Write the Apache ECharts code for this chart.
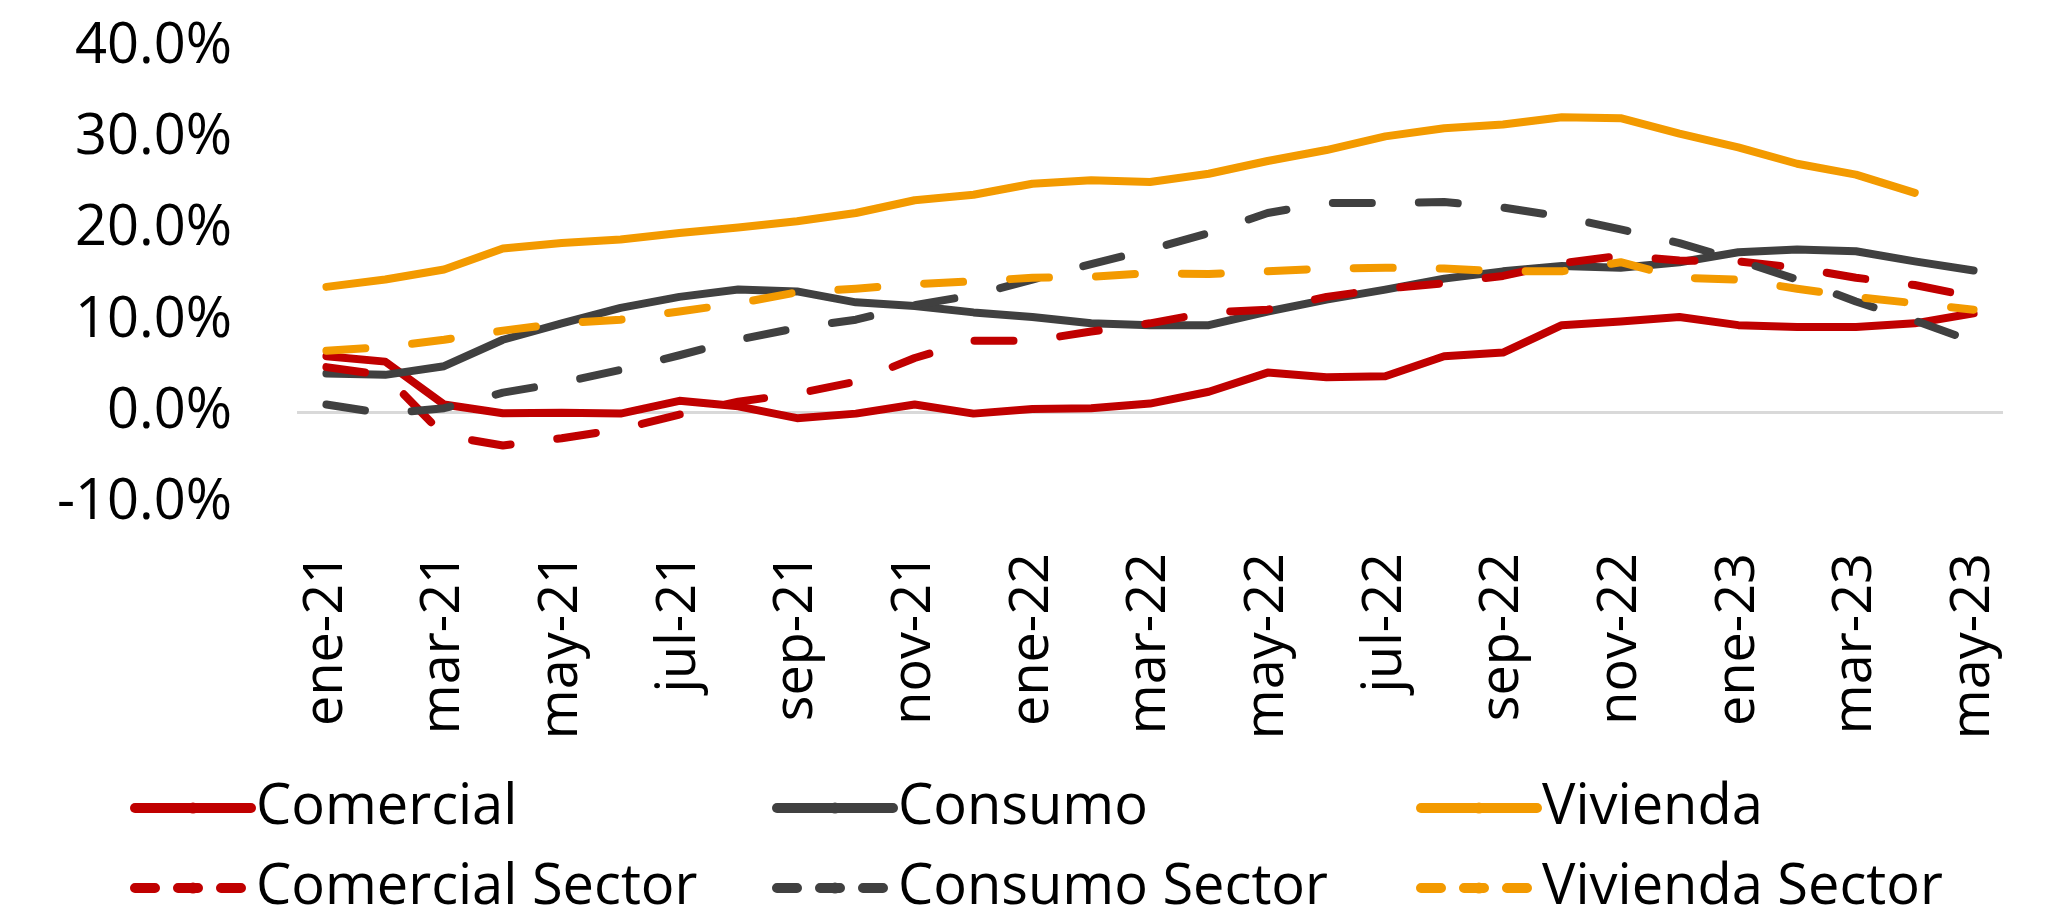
<!DOCTYPE html>
<html>
<head>
<meta charset="utf-8">
<script src="https://cdn.jsdelivr.net/npm/echarts@6/dist/echarts.min.js"></script>
<style>
  html, body { margin: 0; padding: 0; background: #fff; }
  #chart { width: 2049px; height: 911px; }
</style>
</head>
<body>
<div id="chart"></div>
<script>
// monthly categories, ene-21 .. may-23
const months = ["ene-21", "feb-21", "mar-21", "abr-21", "may-21", "jun-21", "jul-21", "ago-21", "sep-21", "oct-21", "nov-21", "dic-21",
  "ene-22", "feb-22", "mar-22", "abr-22", "may-22", "jun-22", "jul-22", "ago-22", "sep-22", "oct-22", "nov-22", "dic-22",
  "ene-23", "feb-23", "mar-23", "abr-23", "may-23"];

// values in %
const comercial = [6.1, 5.5, 0.8, -0.15, -0.1, -0.2, 1.2, 0.6, -0.7, -0.2, 0.8, -0.2, 0.3, 0.4, 0.9, 2.2, 4.3, 3.8, 3.9, 6.1, 6.5, 9.5, 9.9, 10.4, 9.5, 9.3, 9.3, 9.7, 10.8];
const consumo = [4.2, 4.05, 5.0, 7.9, 9.7, 11.4, 12.6, 13.4, 13.2, 12.0, 11.6, 10.9, 10.4, 9.7, 9.5, 9.5, 11.0, 12.3, 13.4, 14.6, 15.4, 16.0, 15.8, 16.4, 17.5, 17.8, 17.6, 16.5, 15.5];
const vivienda = [13.7, 14.5, 15.6, 17.9, 18.5, 18.9, 19.6, 20.2, 20.9, 21.8, 23.2, 23.8, 25.0, 25.4, 25.2, 26.1, 27.5, 28.7, 30.2, 31.1, 31.5, 32.3, 32.2, 30.5, 29.0, 27.2, 26.0, 24.0, null];
const comercialSector = [4.9, 4.0, -2.6, -3.7, -2.9, -1.9, -0.3, 1.1, 2.0, 3.3, 5.9, 7.8, 7.8, 8.8, 9.7, 10.9, 11.2, 12.6, 13.5, 14.1, 14.9, 16.3, 17.1, 16.6, 16.5, 15.8, 14.7, 13.9, 12.6];
const consumoSector = [0.8, -0.2, 0.4, 2.1, 3.2, 4.6, 6.2, 7.9, 9.2, 10.1, 11.7, 12.8, 14.5, 16.2, 17.8, 19.6, 21.8, 22.9, 22.9, 23.0, 22.4, 21.4, 20.0, 18.5, 16.6, 14.5, 12.1, 10.0, 7.7];
const viviendaSector = [6.7, 7.1, 7.9, 8.9, 9.7, 10.1, 11.0, 11.9, 13.1, 13.5, 14.0, 14.3, 14.7, 14.8, 15.2, 15.1, 15.4, 15.7, 15.8, 15.7, 15.4, 15.4, 16.4, 14.7, 14.5, 13.5, 12.6, 11.9, 11.2];

const RED = "#C00000";
const GREY = "#404040";
const ORANGE = "#F39A00";
const FONT = "'Open Sans', 'Noto Sans', sans-serif";
const DASH = [39, 47];

function line(name, data, color, dashed) {
  return {
    name: name,
    type: "line",
    data: data,
    symbol: "none",
    connectNulls: false,
    lineStyle: { color: color, width: 8, type: dashed ? DASH : "solid", cap: "round", join: "round" },
    itemStyle: { color: color },
  };
}

// one legend per entry, laid out as 3 columns x 2 rows
function legendItem(left, top, name, color, dashed) {
  const ls = { width: 10, type: dashed ? [20, 23] : "solid", cap: "round", color: color };
  return {
    left: left,
    top: top,
    itemWidth: 116,
    itemHeight: 14,
    lineStyle: ls,
    textStyle: { fontFamily: FONT, fontSize: 56, color: "#000", lineHeight: 60 },
    data: [{ name: name, lineStyle: ls }],
  };
}

const chart = echarts.init(document.getElementById("chart"));
chart.setOption({
  animation: false,
  backgroundColor: "#fff",
  grid: { left: 297, right: 46, top: 47, bottom: 408, containLabel: false },
  legend: [
    legendItem(125, 773, "Comercial", RED, false),
    legendItem(767, 773, "Consumo", GREY, false),
    legendItem(1411, 773, "Vivienda", ORANGE, false),
    legendItem(125, 853, "Comercial Sector", RED, true),
    legendItem(767, 853, "Consumo Sector", GREY, true),
    legendItem(1411, 853, "Vivienda Sector", ORANGE, true),
  ],
  xAxis: {
    type: "category",
    data: months,
    boundaryGap: true,
    axisLine: { show: false },
    axisTick: { show: false },
    axisLabel: { interval: 1, rotate: 90, margin: 50, fontFamily: FONT, fontSize: 54, color: "#000" },
  },
  yAxis: {
    type: "value",
    min: -10,
    max: 40,
    interval: 10,
    axisLine: { show: false },
    axisTick: { show: false },
    axisLabel: { margin: 65, fontFamily: FONT, fontSize: 56, color: "#000", formatter: (v) => v.toFixed(1) + "%" },
    splitLine: {
      show: true,
      lineStyle: { width: 3, color: ["rgba(0,0,0,0)", "#D9D9D9", "rgba(0,0,0,0)", "rgba(0,0,0,0)", "rgba(0,0,0,0)", "rgba(0,0,0,0)"] },
    },
  },
  series: [
    line("Comercial", comercial, RED, false),
    line("Consumo", consumo, GREY, false),
    line("Vivienda", vivienda, ORANGE, false),
    line("Comercial Sector", comercialSector, RED, true),
    line("Consumo Sector", consumoSector, GREY, true),
    line("Vivienda Sector", viviendaSector, ORANGE, true),
  ],
});
</script>
</body>
</html>
